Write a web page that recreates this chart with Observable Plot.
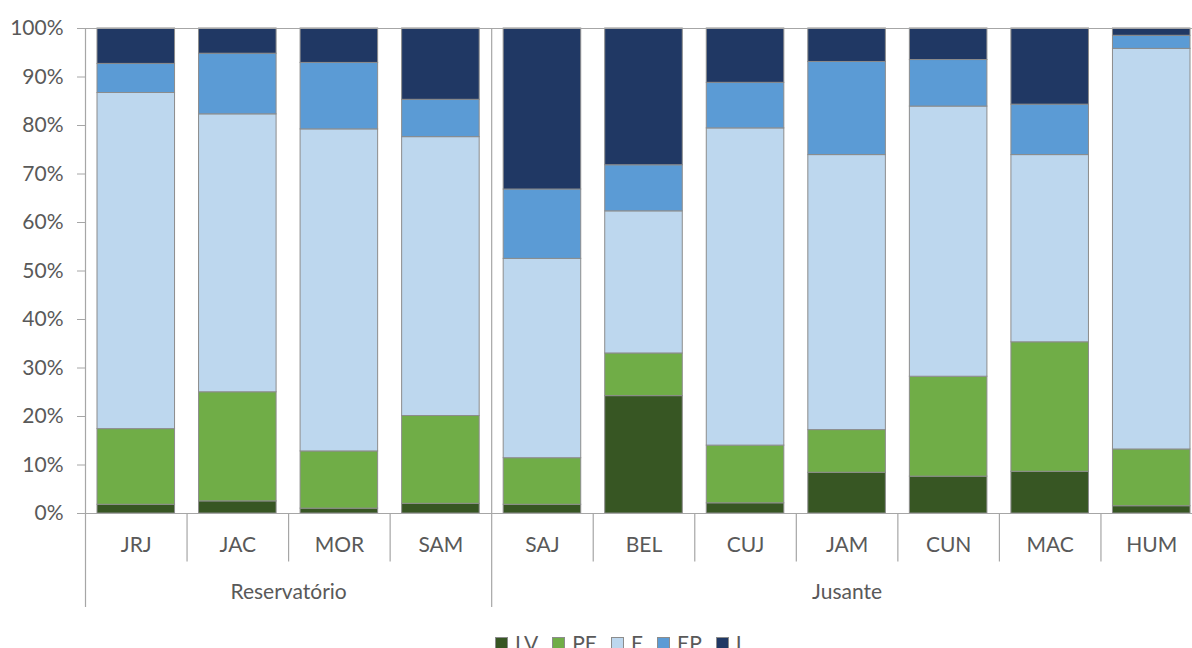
<!DOCTYPE html>
<html>
<head>
<meta charset="utf-8">
<script src="https://cdn.jsdelivr.net/npm/d3@7"></script>
<script src="https://cdn.jsdelivr.net/npm/@observablehq/plot@0.6"></script>
<style>
  html, body { margin: 0; padding: 0; overflow: hidden; background: #fff; }
  #chart { position: relative; width: 1192px; height: 648px; overflow: hidden; }
  #chart svg { max-width: none !important; }
  #chart svg text { fill: #595959; }
  .legend { position: absolute; top: 631px; left: 495px; display: flex; align-items: center;
            font-family: Lato, "Open Sans", sans-serif; font-size: 21px; color: #595959; line-height: 24px; }
  .legend .item { display: flex; align-items: center; margin-right: 14px; }
  .legend .sw { width: 11px; height: 11px; border: 1px solid #8c8c8c; margin-right: 7px; }
</style>
</head>
<body>
<div id="chart"></div>
<script>
const categories = ["JRJ", "JAC", "MOR", "SAM", "SAJ", "BEL", "CUJ", "JAM", "CUN", "MAC", "HUM"];
const groupNames = ["Reservatório", "Jusante"];
const groupSizes = [4, 7];
const series = ["LV", "PE", "E", "EP", "I"];
const seriesColors = ["#375623", "#70ad47", "#bdd7ee", "#5b9bd5", "#203864"];

const LV = [1.8, 2.5, 1.0, 2.0, 1.8, 24.2, 2.1, 8.4, 7.6, 8.6, 1.5];
const PE = [15.6, 22.5, 11.8, 18.1, 9.6, 8.8, 11.9, 8.8, 20.6, 26.7, 11.7];
const E  = [69.3, 57.3, 66.4, 57.5, 41.1, 29.3, 65.4, 56.7, 55.7, 38.6, 82.6];
const EP = [6.0, 12.5, 13.7, 7.7, 14.3, 9.5, 9.4, 19.2, 9.6, 10.4, 2.7];
const I  = [7.3, 5.2, 7.1, 14.7, 33.2, 28.2, 11.2, 6.9, 6.5, 15.7, 1.5];

const yTicks = [0, 10, 20, 30, 40, 50, 60, 70, 80, 90, 100];

const seriesValues = [LV, PE, E, EP, I];

// stacked rows
const rows = [];
categories.forEach((cat, i) => {
  let acc = 0;
  series.forEach((s, k) => {
    const v = seriesValues[k][i];
    rows.push({cat, i, series: s, y1: acc, y2: acc + v});
    acc += v;
  });
});

// group extents
const groups = [];
let start = 0;
groupNames.forEach((name, g) => {
  groups.push({name, start, end: start + groupSizes[g]});
  start += groupSizes[g];
});
const groupBounds = [0, ...groups.map(g => g.end)];
const catBounds = d3.range(1, categories.length).filter(b => !groupBounds.includes(b));

const gray = "#a6a6a6";
const font = "Lato, 'Open Sans', sans-serif";

const chart = Plot.plot({
  width: 1202,
  height: 625,
  marginLeft: 85,
  marginRight: 0,
  marginTop: 28,
  marginBottom: 112,
  style: {fontFamily: font, fontSize: "21px", background: "#fff", overflow: "visible", maxWidth: "none"},
  x: {type: "linear", domain: [0, categories.length], axis: null},
  y: {domain: [0, 100], axis: null},
  color: {domain: series, range: seriesColors},
  marks: [
    Plot.rectY(rows, {
      x1: d => d.i, x2: d => d.i + 1, y1: "y1", y2: "y2",
      fill: "series", stroke: "#8c8c8c", strokeWidth: 1,
      insetLeft: 12, insetRight: 12
    }),
    Plot.ruleY([100], {stroke: gray, strokeWidth: 1.2}),
    Plot.ruleY([0], {stroke: gray, strokeWidth: 1.2}),
    Plot.axisY({
      ticks: yTicks, tickFormat: d => d + "%", tickSize: 8, tickPadding: 14,
      stroke: gray, fontSize: 21, anchor: "left"
    }),
    Plot.ruleX(groupBounds, {x: d => d, y1: -19.4, y2: 100, stroke: gray, strokeWidth: 1.2}),
    Plot.ruleX(catBounds, {x: d => d, y1: -10, y2: 0, stroke: gray, strokeWidth: 1.2}),
    Plot.text(categories, {
      x: (d, i) => i + 0.5, y: () => 0, text: d => d, dy: 32,
      fontSize: 21, textAnchor: "middle"
    }),
    Plot.text(groups, {
      x: d => (d.start + d.end) / 2, y: () => 0, text: "name", dy: 79,
      fontSize: 21, textAnchor: "middle"
    })
  ]
});

const container = document.getElementById("chart");
container.appendChild(chart);

const legend = document.createElement("div");
legend.className = "legend";
series.forEach((s, k) => {
  const item = document.createElement("div");
  item.className = "item";
  const sw = document.createElement("span");
  sw.className = "sw";
  sw.style.background = seriesColors[k];
  const label = document.createElement("span");
  label.textContent = s;
  item.appendChild(sw);
  item.appendChild(label);
  legend.appendChild(item);
});
container.appendChild(legend);
</script>
</body>
</html>
